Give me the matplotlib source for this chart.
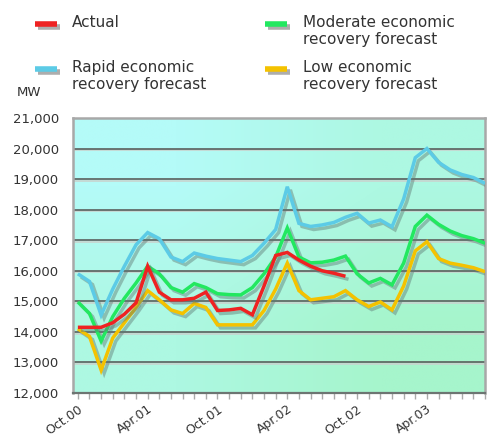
import numpy as np
import matplotlib
matplotlib.use("Agg")
import matplotlib.pyplot as plt
import matplotlib.patheffects as pe
from matplotlib.lines import Line2D

# monthly values, Oct 00 .. Sep 03
months = np.arange(36)

actual = [14150, 14150, 14150, 14300, 14580, 14950, 16150, 15300, 15050, 15050,
          15100, 15300, 14700, 14720, 14770, 14560, 15500, 16500, 16600, 16350,
          16150, 16000, 15920, 15820]

moderate = [14980, 14600, 13700, 14500, 15100, 15600, 16150, 15900, 15450, 15300,
            15580, 15450, 15250, 15220, 15210, 15450, 15900, 16450, 17400, 16450,
            16260, 16280, 16350, 16480, 15900, 15600, 15750, 15540, 16250, 17450,
            17820, 17520, 17300, 17150, 17050, 16900]

rapid = [15900, 15650, 14550, 15400, 16150, 16850, 17250, 17050, 16450, 16300,
         16580, 16480, 16400, 16350, 16300, 16500, 16900, 17350, 18750, 17550,
         17450, 17500, 17580, 17750, 17880, 17560, 17660, 17440, 18350, 19700,
         20000, 19550, 19300, 19150, 19050, 18860]

low = [14100, 13850, 12750, 13800, 14300, 14800, 15350, 15050, 14720, 14600,
       14930, 14800, 14230, 14230, 14230, 14230, 14700, 15400, 16250, 15350,
       15050, 15100, 15150, 15350, 15050, 14830, 14980, 14720, 15500, 16650,
       16950, 16400, 16250, 16180, 16100, 15970]

y_ticks = [12000, 13000, 14000, 15000, 16000, 17000, 18000, 19000, 20000, 21000]
x_label_pos = [0, 6, 12, 18, 24, 30]
x_labels = ["Oct.00", "Apr.01", "Oct.01", "Apr.02", "Oct.02", "Apr.03"]

RED = "#ee2222"
GREEN = "#22e860"
CYAN = "#5ccbe6"
YELLOW = "#f4c200"
TEXT = "#333333"

plt.rcParams["font.family"] = ["DejaVu Sans"]

fig = plt.figure(figsize=(4.89, 4.37), dpi=100)
ax = fig.add_axes([0.149, 0.1007, 0.843, 0.6293])

# diagonal background gradient
grad = np.zeros((2, 2, 3))
c_tl = np.array([180, 251, 248]) / 255
c_br = np.array([166, 245, 204]) / 255
grad[0, 0] = c_tl
grad[0, 1] = (c_tl + c_br) / 2
grad[1, 0] = (c_tl + c_br) / 2
grad[1, 1] = c_br
ax.imshow(grad, extent=[0, 1, 0, 1], transform=ax.transAxes, aspect="auto",
          interpolation="bilinear", zorder=0)

grid_fx = [pe.SimpleLineShadow(offset=(0, -1.2), shadow_color="#c8d4cf", alpha=1.0), pe.Normal()]
for yv in y_ticks[1:-1]:
    ax.axhline(yv, color="#5a5f5d", lw=1.2, zorder=1, path_effects=grid_fx)

line_fx = [pe.SimpleLineShadow(offset=(2.2, -2.2), shadow_color="#5f7a74", alpha=0.45), pe.Normal()]
series = [(rapid, CYAN), (moderate, GREEN), (low, YELLOW), (actual, RED)]
for vals, col in series:
    ax.plot(months[:len(vals)], vals, color=col, lw=2.5, solid_joinstyle="miter",
            solid_capstyle="butt", zorder=3, path_effects=line_fx)

ax.set_xlim(-0.43, 35)
ax.set_ylim(12000, 21000)

ax.set_yticks(y_ticks)
ax.set_yticklabels([f"{v:,}" for v in y_ticks])
ax.tick_params(axis="y", length=0, pad=10, labelsize=9.5, labelcolor=TEXT)

ax.set_xticks(months, minor=True)
ax.set_xticks(x_label_pos)
ax.set_xticklabels(x_labels, rotation=35, ha="right", rotation_mode="anchor")
ax.tick_params(axis="x", which="both", length=4, width=1, color="#aaaaaa",
               direction="out", pad=3, labelsize=9, labelcolor=TEXT)

for side in ["left", "top", "right"]:
    ax.spines[side].set_color("#a8a8a8")
    ax.spines[side].set_linewidth(1.8)
ax.spines["bottom"].set_color("#6d7572")
ax.spines["bottom"].set_linewidth(1.6)

fig.text(17 / 489, 1 - 93 / 437, "MW", fontsize=9.5, color=TEXT, va="center", ha="left")

# legend drawn by hand
legend_items = [
    (RED, 35, 24, 72, "Actual"),
    (GREEN, 265, 24, 303, "Moderate economic\nrecovery forecast"),
    (CYAN, 35, 69, 72, "Rapid economic\nrecovery forecast"),
    (YELLOW, 265, 69, 303, "Low economic\nrecovery forecast"),
]
leg_fx = [pe.SimpleLineShadow(offset=(2, -2), shadow_color="#999999", alpha=0.8), pe.Normal()]
for col, lx, ly, tx, label in legend_items:
    W, H = 489.0, 437.0
    fig.add_artist(Line2D([lx / W, (lx + 22) / W], [1 - ly / H, 1 - ly / H], color=col,
                          lw=4, solid_capstyle="butt", path_effects=leg_fx))
    fig.text(tx / W, 1 - (ly - 9) / H, label, fontsize=11, color=TEXT,
             va="top", ha="left", linespacing=1.15)

fig.savefig("out.png", dpi=100)
